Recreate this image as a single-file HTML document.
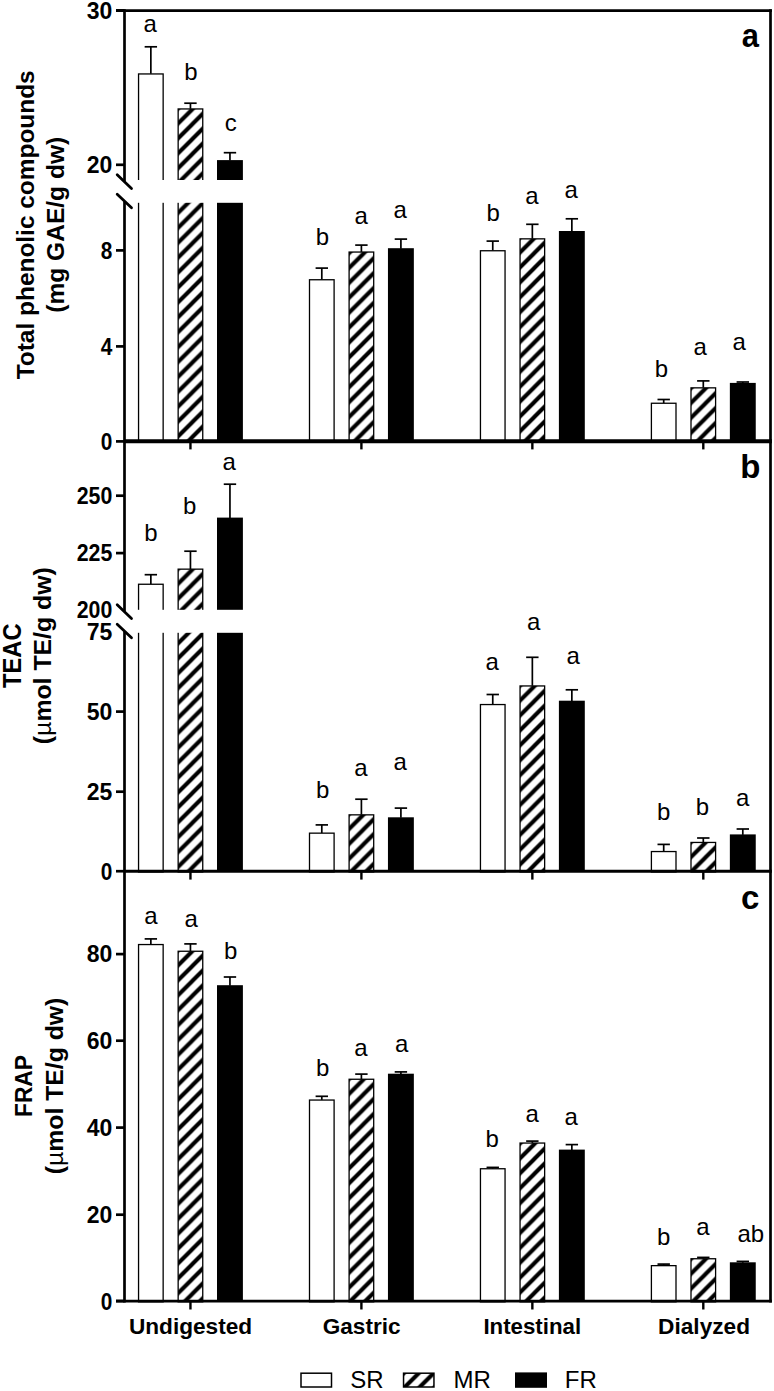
<!DOCTYPE html><html><head><meta charset="utf-8"><style>html,body{margin:0;padding:0;background:#fff;}body{width:774px;height:1391px;overflow:hidden;}</style></head><body><svg width="774" height="1391" viewBox="0 0 774 1391" style="display:block">
<defs>
<pattern id="ha0" patternUnits="userSpaceOnUse" x="177.50" y="109.20" width="14.9" height="14.9"><rect width="14.9" height="14.9" fill="#fff"/><path d="M-14.90,14.90L29.80,-29.80M-14.90,29.80L29.80,-14.90M-14.90,44.70L29.80,0.00" stroke="#000" stroke-width="4.101" fill="none"/></pattern><pattern id="ha1" patternUnits="userSpaceOnUse" x="348.45" y="253.70" width="14.9" height="14.9"><rect width="14.9" height="14.9" fill="#fff"/><path d="M-14.90,14.90L29.80,-29.80M-14.90,29.80L29.80,-14.90M-14.90,44.70L29.80,0.00" stroke="#000" stroke-width="4.101" fill="none"/></pattern><pattern id="ha2" patternUnits="userSpaceOnUse" x="519.40" y="238.20" width="14.9" height="14.9"><rect width="14.9" height="14.9" fill="#fff"/><path d="M-14.90,14.90L29.80,-29.80M-14.90,29.80L29.80,-14.90M-14.90,44.70L29.80,0.00" stroke="#000" stroke-width="4.101" fill="none"/></pattern><pattern id="ha3" patternUnits="userSpaceOnUse" x="690.35" y="388.70" width="14.9" height="14.9"><rect width="14.9" height="14.9" fill="#fff"/><path d="M-14.90,14.90L29.80,-29.80M-14.90,29.80L29.80,-14.90M-14.90,44.70L29.80,0.00" stroke="#000" stroke-width="4.101" fill="none"/></pattern><pattern id="hb0" patternUnits="userSpaceOnUse" x="177.50" y="569.50" width="14.9" height="14.9"><rect width="14.9" height="14.9" fill="#fff"/><path d="M-14.90,14.90L29.80,-29.80M-14.90,29.80L29.80,-14.90M-14.90,44.70L29.80,0.00" stroke="#000" stroke-width="4.101" fill="none"/></pattern><pattern id="hb1" patternUnits="userSpaceOnUse" x="348.45" y="814.70" width="14.9" height="14.9"><rect width="14.9" height="14.9" fill="#fff"/><path d="M-14.90,14.90L29.80,-29.80M-14.90,29.80L29.80,-14.90M-14.90,44.70L29.80,0.00" stroke="#000" stroke-width="4.101" fill="none"/></pattern><pattern id="hb2" patternUnits="userSpaceOnUse" x="519.40" y="686.30" width="14.9" height="14.9"><rect width="14.9" height="14.9" fill="#fff"/><path d="M-14.90,14.90L29.80,-29.80M-14.90,29.80L29.80,-14.90M-14.90,44.70L29.80,0.00" stroke="#000" stroke-width="4.101" fill="none"/></pattern><pattern id="hb3" patternUnits="userSpaceOnUse" x="690.35" y="842.80" width="14.9" height="14.9"><rect width="14.9" height="14.9" fill="#fff"/><path d="M-14.90,14.90L29.80,-29.80M-14.90,29.80L29.80,-14.90M-14.90,44.70L29.80,0.00" stroke="#000" stroke-width="4.101" fill="none"/></pattern><pattern id="hc0" patternUnits="userSpaceOnUse" x="177.50" y="951.10" width="14.9" height="14.9"><rect width="14.9" height="14.9" fill="#fff"/><path d="M-14.90,14.90L29.80,-29.80M-14.90,29.80L29.80,-14.90M-14.90,44.70L29.80,0.00" stroke="#000" stroke-width="4.101" fill="none"/></pattern><pattern id="hc1" patternUnits="userSpaceOnUse" x="348.45" y="1079.60" width="14.9" height="14.9"><rect width="14.9" height="14.9" fill="#fff"/><path d="M-14.90,14.90L29.80,-29.80M-14.90,29.80L29.80,-14.90M-14.90,44.70L29.80,0.00" stroke="#000" stroke-width="4.101" fill="none"/></pattern><pattern id="hc2" patternUnits="userSpaceOnUse" x="519.40" y="1144.10" width="14.9" height="14.9"><rect width="14.9" height="14.9" fill="#fff"/><path d="M-14.90,14.90L29.80,-29.80M-14.90,29.80L29.80,-14.90M-14.90,44.70L29.80,0.00" stroke="#000" stroke-width="4.101" fill="none"/></pattern><pattern id="hc3" patternUnits="userSpaceOnUse" x="690.35" y="1259.50" width="14.9" height="14.9"><rect width="14.9" height="14.9" fill="#fff"/><path d="M-14.90,14.90L29.80,-29.80M-14.90,29.80L29.80,-14.90M-14.90,44.70L29.80,0.00" stroke="#000" stroke-width="4.101" fill="none"/></pattern><pattern id="hleg" patternUnits="userSpaceOnUse" x="404.80" y="1372.20" width="14.9" height="14.9"><rect width="14.9" height="14.9" fill="#fff"/><path d="M-14.90,14.90L29.80,-29.80M-14.90,29.80L29.80,-14.90M-14.90,44.70L29.80,0.00" stroke="#000" stroke-width="4.101" fill="none"/></pattern>
</defs>
<rect width="774" height="1391" fill="#fff"/>
<line x1="150.85" y1="46.80" x2="150.85" y2="73.80" stroke="#000" stroke-width="1.7"/>
<line x1="144.65" y1="46.80" x2="157.05" y2="46.80" stroke="#000" stroke-width="1.7"/>
<rect x="138.55" y="73.95" width="24.60" height="367.80" fill="#fff" stroke="#000" stroke-width="1.3"/>
<line x1="190.45" y1="103.20" x2="190.45" y2="108.80" stroke="#000" stroke-width="1.7"/>
<line x1="184.25" y1="103.20" x2="196.65" y2="103.20" stroke="#000" stroke-width="1.7"/>
<rect x="178.15" y="108.95" width="24.60" height="332.80" fill="url(#ha0)" stroke="#000" stroke-width="1.3"/>
<line x1="229.95" y1="152.70" x2="229.95" y2="160.60" stroke="#000" stroke-width="1.7"/>
<line x1="223.75" y1="152.70" x2="236.15" y2="152.70" stroke="#000" stroke-width="1.7"/>
<rect x="217.00" y="160.10" width="25.90" height="281.00" fill="#000"/>
<line x1="321.80" y1="268.10" x2="321.80" y2="279.60" stroke="#000" stroke-width="1.7"/>
<line x1="315.60" y1="268.10" x2="328.00" y2="268.10" stroke="#000" stroke-width="1.7"/>
<rect x="309.50" y="279.75" width="24.60" height="162.00" fill="#fff" stroke="#000" stroke-width="1.3"/>
<line x1="361.40" y1="245.10" x2="361.40" y2="251.90" stroke="#000" stroke-width="1.7"/>
<line x1="355.20" y1="245.10" x2="367.60" y2="245.10" stroke="#000" stroke-width="1.7"/>
<rect x="349.10" y="252.05" width="24.60" height="189.70" fill="url(#ha1)" stroke="#000" stroke-width="1.3"/>
<line x1="400.90" y1="239.10" x2="400.90" y2="248.70" stroke="#000" stroke-width="1.7"/>
<line x1="394.70" y1="239.10" x2="407.10" y2="239.10" stroke="#000" stroke-width="1.7"/>
<rect x="387.95" y="248.20" width="25.90" height="192.90" fill="#000"/>
<line x1="492.75" y1="241.10" x2="492.75" y2="250.60" stroke="#000" stroke-width="1.7"/>
<line x1="486.55" y1="241.10" x2="498.95" y2="241.10" stroke="#000" stroke-width="1.7"/>
<rect x="480.45" y="250.75" width="24.60" height="191.00" fill="#fff" stroke="#000" stroke-width="1.3"/>
<line x1="532.35" y1="224.30" x2="532.35" y2="238.70" stroke="#000" stroke-width="1.7"/>
<line x1="526.15" y1="224.30" x2="538.55" y2="224.30" stroke="#000" stroke-width="1.7"/>
<rect x="520.05" y="238.85" width="24.60" height="202.90" fill="url(#ha2)" stroke="#000" stroke-width="1.3"/>
<line x1="571.85" y1="218.80" x2="571.85" y2="231.50" stroke="#000" stroke-width="1.7"/>
<line x1="565.65" y1="218.80" x2="578.05" y2="218.80" stroke="#000" stroke-width="1.7"/>
<rect x="558.90" y="231.00" width="25.90" height="210.10" fill="#000"/>
<line x1="663.70" y1="399.50" x2="663.70" y2="403.10" stroke="#000" stroke-width="1.7"/>
<line x1="657.50" y1="399.50" x2="669.90" y2="399.50" stroke="#000" stroke-width="1.7"/>
<rect x="651.40" y="403.25" width="24.60" height="38.50" fill="#fff" stroke="#000" stroke-width="1.3"/>
<line x1="703.30" y1="380.90" x2="703.30" y2="387.70" stroke="#000" stroke-width="1.7"/>
<line x1="697.10" y1="380.90" x2="709.50" y2="380.90" stroke="#000" stroke-width="1.7"/>
<rect x="691.00" y="387.85" width="24.60" height="53.90" fill="url(#ha3)" stroke="#000" stroke-width="1.3"/>
<line x1="742.80" y1="382.00" x2="742.80" y2="383.40" stroke="#000" stroke-width="1.7"/>
<line x1="736.60" y1="382.00" x2="749.00" y2="382.00" stroke="#000" stroke-width="1.7"/>
<rect x="729.85" y="382.90" width="25.90" height="58.20" fill="#000"/>
<line x1="150.85" y1="574.70" x2="150.85" y2="584.10" stroke="#000" stroke-width="1.7"/>
<line x1="144.65" y1="574.70" x2="157.05" y2="574.70" stroke="#000" stroke-width="1.7"/>
<rect x="138.55" y="584.25" width="24.60" height="287.70" fill="#fff" stroke="#000" stroke-width="1.3"/>
<line x1="190.45" y1="551.20" x2="190.45" y2="569.00" stroke="#000" stroke-width="1.7"/>
<line x1="184.25" y1="551.20" x2="196.65" y2="551.20" stroke="#000" stroke-width="1.7"/>
<rect x="178.15" y="569.15" width="24.60" height="302.80" fill="url(#hb0)" stroke="#000" stroke-width="1.3"/>
<line x1="229.95" y1="484.20" x2="229.95" y2="518.10" stroke="#000" stroke-width="1.7"/>
<line x1="223.75" y1="484.20" x2="236.15" y2="484.20" stroke="#000" stroke-width="1.7"/>
<rect x="217.00" y="517.60" width="25.90" height="353.70" fill="#000"/>
<line x1="321.80" y1="824.90" x2="321.80" y2="833.00" stroke="#000" stroke-width="1.7"/>
<line x1="315.60" y1="824.90" x2="328.00" y2="824.90" stroke="#000" stroke-width="1.7"/>
<rect x="309.50" y="833.15" width="24.60" height="38.80" fill="#fff" stroke="#000" stroke-width="1.3"/>
<line x1="361.40" y1="799.20" x2="361.40" y2="814.70" stroke="#000" stroke-width="1.7"/>
<line x1="355.20" y1="799.20" x2="367.60" y2="799.20" stroke="#000" stroke-width="1.7"/>
<rect x="349.10" y="814.85" width="24.60" height="57.10" fill="url(#hb1)" stroke="#000" stroke-width="1.3"/>
<line x1="400.90" y1="808.10" x2="400.90" y2="817.80" stroke="#000" stroke-width="1.7"/>
<line x1="394.70" y1="808.10" x2="407.10" y2="808.10" stroke="#000" stroke-width="1.7"/>
<rect x="387.95" y="817.30" width="25.90" height="54.00" fill="#000"/>
<line x1="492.75" y1="694.50" x2="492.75" y2="704.40" stroke="#000" stroke-width="1.7"/>
<line x1="486.55" y1="694.50" x2="498.95" y2="694.50" stroke="#000" stroke-width="1.7"/>
<rect x="480.45" y="704.55" width="24.60" height="167.40" fill="#fff" stroke="#000" stroke-width="1.3"/>
<line x1="532.35" y1="657.30" x2="532.35" y2="685.80" stroke="#000" stroke-width="1.7"/>
<line x1="526.15" y1="657.30" x2="538.55" y2="657.30" stroke="#000" stroke-width="1.7"/>
<rect x="520.05" y="685.95" width="24.60" height="186.00" fill="url(#hb2)" stroke="#000" stroke-width="1.3"/>
<line x1="571.85" y1="689.80" x2="571.85" y2="701.20" stroke="#000" stroke-width="1.7"/>
<line x1="565.65" y1="689.80" x2="578.05" y2="689.80" stroke="#000" stroke-width="1.7"/>
<rect x="558.90" y="700.70" width="25.90" height="170.60" fill="#000"/>
<line x1="663.70" y1="844.40" x2="663.70" y2="851.40" stroke="#000" stroke-width="1.7"/>
<line x1="657.50" y1="844.40" x2="669.90" y2="844.40" stroke="#000" stroke-width="1.7"/>
<rect x="651.40" y="851.55" width="24.60" height="20.40" fill="#fff" stroke="#000" stroke-width="1.3"/>
<line x1="703.30" y1="838.00" x2="703.30" y2="842.30" stroke="#000" stroke-width="1.7"/>
<line x1="697.10" y1="838.00" x2="709.50" y2="838.00" stroke="#000" stroke-width="1.7"/>
<rect x="691.00" y="842.45" width="24.60" height="29.50" fill="url(#hb3)" stroke="#000" stroke-width="1.3"/>
<line x1="742.80" y1="829.00" x2="742.80" y2="834.90" stroke="#000" stroke-width="1.7"/>
<line x1="736.60" y1="829.00" x2="749.00" y2="829.00" stroke="#000" stroke-width="1.7"/>
<rect x="729.85" y="834.40" width="25.90" height="36.90" fill="#000"/>
<line x1="150.85" y1="938.90" x2="150.85" y2="944.40" stroke="#000" stroke-width="1.7"/>
<line x1="144.65" y1="938.90" x2="157.05" y2="938.90" stroke="#000" stroke-width="1.7"/>
<rect x="138.55" y="944.55" width="24.60" height="357.30" fill="#fff" stroke="#000" stroke-width="1.3"/>
<line x1="190.45" y1="943.90" x2="190.45" y2="951.10" stroke="#000" stroke-width="1.7"/>
<line x1="184.25" y1="943.90" x2="196.65" y2="943.90" stroke="#000" stroke-width="1.7"/>
<rect x="178.15" y="951.25" width="24.60" height="350.60" fill="url(#hc0)" stroke="#000" stroke-width="1.3"/>
<line x1="229.95" y1="977.00" x2="229.95" y2="985.70" stroke="#000" stroke-width="1.7"/>
<line x1="223.75" y1="977.00" x2="236.15" y2="977.00" stroke="#000" stroke-width="1.7"/>
<rect x="217.00" y="985.20" width="25.90" height="316.00" fill="#000"/>
<line x1="321.80" y1="1096.30" x2="321.80" y2="1099.90" stroke="#000" stroke-width="1.7"/>
<line x1="315.60" y1="1096.30" x2="328.00" y2="1096.30" stroke="#000" stroke-width="1.7"/>
<rect x="309.50" y="1100.05" width="24.60" height="201.80" fill="#fff" stroke="#000" stroke-width="1.3"/>
<line x1="361.40" y1="1074.10" x2="361.40" y2="1079.10" stroke="#000" stroke-width="1.7"/>
<line x1="355.20" y1="1074.10" x2="367.60" y2="1074.10" stroke="#000" stroke-width="1.7"/>
<rect x="349.10" y="1079.25" width="24.60" height="222.60" fill="url(#hc1)" stroke="#000" stroke-width="1.3"/>
<line x1="400.90" y1="1071.90" x2="400.90" y2="1074.20" stroke="#000" stroke-width="1.7"/>
<line x1="394.70" y1="1071.90" x2="407.10" y2="1071.90" stroke="#000" stroke-width="1.7"/>
<rect x="387.95" y="1073.70" width="25.90" height="227.50" fill="#000"/>
<line x1="492.75" y1="1167.40" x2="492.75" y2="1168.60" stroke="#000" stroke-width="1.7"/>
<line x1="486.55" y1="1167.40" x2="498.95" y2="1167.40" stroke="#000" stroke-width="1.7"/>
<rect x="480.45" y="1168.75" width="24.60" height="133.10" fill="#fff" stroke="#000" stroke-width="1.3"/>
<line x1="532.35" y1="1141.10" x2="532.35" y2="1142.90" stroke="#000" stroke-width="1.7"/>
<line x1="526.15" y1="1141.10" x2="538.55" y2="1141.10" stroke="#000" stroke-width="1.7"/>
<rect x="520.05" y="1143.05" width="24.60" height="158.80" fill="url(#hc2)" stroke="#000" stroke-width="1.3"/>
<line x1="571.85" y1="1144.60" x2="571.85" y2="1150.10" stroke="#000" stroke-width="1.7"/>
<line x1="565.65" y1="1144.60" x2="578.05" y2="1144.60" stroke="#000" stroke-width="1.7"/>
<rect x="558.90" y="1149.60" width="25.90" height="151.60" fill="#000"/>
<line x1="663.70" y1="1264.10" x2="663.70" y2="1265.50" stroke="#000" stroke-width="1.7"/>
<line x1="657.50" y1="1264.10" x2="669.90" y2="1264.10" stroke="#000" stroke-width="1.7"/>
<rect x="651.40" y="1265.65" width="24.60" height="36.20" fill="#fff" stroke="#000" stroke-width="1.3"/>
<line x1="703.30" y1="1257.40" x2="703.30" y2="1258.60" stroke="#000" stroke-width="1.7"/>
<line x1="697.10" y1="1257.40" x2="709.50" y2="1257.40" stroke="#000" stroke-width="1.7"/>
<rect x="691.00" y="1258.75" width="24.60" height="43.10" fill="url(#hc3)" stroke="#000" stroke-width="1.3"/>
<line x1="742.80" y1="1261.40" x2="742.80" y2="1262.80" stroke="#000" stroke-width="1.7"/>
<line x1="736.60" y1="1261.40" x2="749.00" y2="1261.40" stroke="#000" stroke-width="1.7"/>
<rect x="729.85" y="1262.30" width="25.90" height="38.90" fill="#000"/>
<rect x="127" y="180.0" width="642.0" height="22.8" fill="#fff"/>
<rect x="127" y="609.8" width="642.0" height="23.0" fill="#fff"/>
<line x1="116" y1="10.6" x2="771.9" y2="10.6" stroke="#000" stroke-width="2.7"/>
<line x1="770.5" y1="9.25" x2="770.5" y2="1302.6000000000001" stroke="#000" stroke-width="2.7"/>
<line x1="124.5" y1="441.25" x2="771.9" y2="441.25" stroke="#000" stroke-width="3.9"/>
<line x1="124.5" y1="871.3" x2="771.9" y2="871.3" stroke="#000" stroke-width="3"/>
<line x1="116" y1="1301.2" x2="771.9" y2="1301.2" stroke="#000" stroke-width="2.7"/>
<line x1="124.5" y1="9.25" x2="124.5" y2="181.8" stroke="#000" stroke-width="2.7"/>
<line x1="124.5" y1="201.5" x2="124.5" y2="611.5" stroke="#000" stroke-width="2.7"/>
<line x1="124.5" y1="631.3" x2="124.5" y2="1302.6000000000001" stroke="#000" stroke-width="2.7"/>
<line x1="117.2" y1="174.8" x2="131.5" y2="188.6" stroke="#000" stroke-width="2.8" stroke-linecap="round"/>
<line x1="117.2" y1="194.2" x2="131.5" y2="207.8" stroke="#000" stroke-width="2.8" stroke-linecap="round"/>
<line x1="117.2" y1="604.8" x2="131.5" y2="618.6" stroke="#000" stroke-width="2.8" stroke-linecap="round"/>
<line x1="117.2" y1="624.2" x2="131.5" y2="637.8" stroke="#000" stroke-width="2.8" stroke-linecap="round"/>
<line x1="116" y1="10.4" x2="124.5" y2="10.4" stroke="#000" stroke-width="2.7"/>
<line x1="116" y1="164.8" x2="124.5" y2="164.8" stroke="#000" stroke-width="2.7"/>
<line x1="116" y1="250.4" x2="124.5" y2="250.4" stroke="#000" stroke-width="2.7"/>
<line x1="116" y1="346.4" x2="124.5" y2="346.4" stroke="#000" stroke-width="2.7"/>
<line x1="116" y1="441.4" x2="124.5" y2="441.4" stroke="#000" stroke-width="2.7"/>
<line x1="116" y1="495.7" x2="124.5" y2="495.7" stroke="#000" stroke-width="2.7"/>
<line x1="116" y1="553.1" x2="124.5" y2="553.1" stroke="#000" stroke-width="2.7"/>
<line x1="116" y1="711.6" x2="124.5" y2="711.6" stroke="#000" stroke-width="2.7"/>
<line x1="116" y1="791.7" x2="124.5" y2="791.7" stroke="#000" stroke-width="2.7"/>
<line x1="116" y1="871.2" x2="124.5" y2="871.2" stroke="#000" stroke-width="2.7"/>
<line x1="116" y1="954.1" x2="124.5" y2="954.1" stroke="#000" stroke-width="2.7"/>
<line x1="116" y1="1040.7" x2="124.5" y2="1040.7" stroke="#000" stroke-width="2.7"/>
<line x1="116" y1="1127.6" x2="124.5" y2="1127.6" stroke="#000" stroke-width="2.7"/>
<line x1="116" y1="1214.7" x2="124.5" y2="1214.7" stroke="#000" stroke-width="2.7"/>
<line x1="116" y1="1301.0" x2="124.5" y2="1301.0" stroke="#000" stroke-width="2.7"/>
<text x="112.3" y="18.6" text-anchor="end" font-family='"Liberation Sans", sans-serif' font-weight="bold" font-size="23">30</text>
<text x="112.3" y="173.0" text-anchor="end" font-family='"Liberation Sans", sans-serif' font-weight="bold" font-size="23">20</text>
<text x="112.3" y="259.0" text-anchor="end" font-family='"Liberation Sans", sans-serif' font-weight="bold" font-size="23" textLength="11.6" lengthAdjust="spacingAndGlyphs">8</text>
<text x="112.3" y="355.0" text-anchor="end" font-family='"Liberation Sans", sans-serif' font-weight="bold" font-size="23" textLength="11.6" lengthAdjust="spacingAndGlyphs">4</text>
<text x="112.3" y="450.0" text-anchor="end" font-family='"Liberation Sans", sans-serif' font-weight="bold" font-size="23" textLength="11.6" lengthAdjust="spacingAndGlyphs">0</text>
<text x="112.3" y="503.9" text-anchor="end" font-family='"Liberation Sans", sans-serif' font-weight="bold" font-size="23" textLength="35.6" lengthAdjust="spacingAndGlyphs">250</text>
<text x="112.3" y="561.3" text-anchor="end" font-family='"Liberation Sans", sans-serif' font-weight="bold" font-size="23" textLength="35.6" lengthAdjust="spacingAndGlyphs">225</text>
<text x="112.3" y="719.8" text-anchor="end" font-family='"Liberation Sans", sans-serif' font-weight="bold" font-size="23">50</text>
<text x="112.3" y="799.9" text-anchor="end" font-family='"Liberation Sans", sans-serif' font-weight="bold" font-size="23">25</text>
<text x="112.3" y="879.8" text-anchor="end" font-family='"Liberation Sans", sans-serif' font-weight="bold" font-size="23" textLength="11.6" lengthAdjust="spacingAndGlyphs">0</text>
<text x="112.3" y="962.3" text-anchor="end" font-family='"Liberation Sans", sans-serif' font-weight="bold" font-size="23">80</text>
<text x="112.3" y="1048.9" text-anchor="end" font-family='"Liberation Sans", sans-serif' font-weight="bold" font-size="23">60</text>
<text x="112.3" y="1135.8" text-anchor="end" font-family='"Liberation Sans", sans-serif' font-weight="bold" font-size="23">40</text>
<text x="112.3" y="1222.9" text-anchor="end" font-family='"Liberation Sans", sans-serif' font-weight="bold" font-size="23">20</text>
<text x="112.3" y="1309.6" text-anchor="end" font-family='"Liberation Sans", sans-serif' font-weight="bold" font-size="23" textLength="11.6" lengthAdjust="spacingAndGlyphs">0</text>
<text x="112.3" y="617.7" text-anchor="end" font-family='"Liberation Sans", sans-serif' font-weight="bold" font-size="23" textLength="35.6" lengthAdjust="spacingAndGlyphs">200</text>
<text x="112.3" y="640.2" text-anchor="end" font-family='"Liberation Sans", sans-serif' font-weight="bold" font-size="23">75</text>
<line x1="190.45" y1="441.1" x2="190.45" y2="449.40000000000003" stroke="#000" stroke-width="2.4"/>
<line x1="361.40" y1="441.1" x2="361.40" y2="449.40000000000003" stroke="#000" stroke-width="2.4"/>
<line x1="532.35" y1="441.1" x2="532.35" y2="449.40000000000003" stroke="#000" stroke-width="2.4"/>
<line x1="703.30" y1="441.1" x2="703.30" y2="449.40000000000003" stroke="#000" stroke-width="2.4"/>
<line x1="190.45" y1="871.3" x2="190.45" y2="879.5999999999999" stroke="#000" stroke-width="2.4"/>
<line x1="361.40" y1="871.3" x2="361.40" y2="879.5999999999999" stroke="#000" stroke-width="2.4"/>
<line x1="532.35" y1="871.3" x2="532.35" y2="879.5999999999999" stroke="#000" stroke-width="2.4"/>
<line x1="703.30" y1="871.3" x2="703.30" y2="879.5999999999999" stroke="#000" stroke-width="2.4"/>
<line x1="190.45" y1="1301.2" x2="190.45" y2="1309.5" stroke="#000" stroke-width="2.4"/>
<line x1="361.40" y1="1301.2" x2="361.40" y2="1309.5" stroke="#000" stroke-width="2.4"/>
<line x1="532.35" y1="1301.2" x2="532.35" y2="1309.5" stroke="#000" stroke-width="2.4"/>
<line x1="703.30" y1="1301.2" x2="703.30" y2="1309.5" stroke="#000" stroke-width="2.4"/>
<text x="150.1" y="32.1" text-anchor="middle" font-family='"Liberation Sans", sans-serif' font-size="24">a</text>
<text x="191.0" y="80.0" text-anchor="middle" font-family='"Liberation Sans", sans-serif' font-size="24">b</text>
<text x="230.8" y="130.9" text-anchor="middle" font-family='"Liberation Sans", sans-serif' font-size="24">c</text>
<text x="322.4" y="245.2" text-anchor="middle" font-family='"Liberation Sans", sans-serif' font-size="24">b</text>
<text x="361.2" y="224.4" text-anchor="middle" font-family='"Liberation Sans", sans-serif' font-size="24">a</text>
<text x="400.2" y="218.4" text-anchor="middle" font-family='"Liberation Sans", sans-serif' font-size="24">a</text>
<text x="493.1" y="220.7" text-anchor="middle" font-family='"Liberation Sans", sans-serif' font-size="24">b</text>
<text x="532.0" y="203.6" text-anchor="middle" font-family='"Liberation Sans", sans-serif' font-size="24">a</text>
<text x="571.1" y="198.1" text-anchor="middle" font-family='"Liberation Sans", sans-serif' font-size="24">a</text>
<text x="661.5" y="377.4" text-anchor="middle" font-family='"Liberation Sans", sans-serif' font-size="24">b</text>
<text x="700.1" y="355.3" text-anchor="middle" font-family='"Liberation Sans", sans-serif' font-size="24">a</text>
<text x="739.3" y="349.9" text-anchor="middle" font-family='"Liberation Sans", sans-serif' font-size="24">a</text>
<text x="151.0" y="541.4" text-anchor="middle" font-family='"Liberation Sans", sans-serif' font-size="24">b</text>
<text x="189.8" y="513.5" text-anchor="middle" font-family='"Liberation Sans", sans-serif' font-size="24">b</text>
<text x="229.2" y="469.5" text-anchor="middle" font-family='"Liberation Sans", sans-serif' font-size="24">a</text>
<text x="322.8" y="798.2" text-anchor="middle" font-family='"Liberation Sans", sans-serif' font-size="24">b</text>
<text x="361.0" y="775.6" text-anchor="middle" font-family='"Liberation Sans", sans-serif' font-size="24">a</text>
<text x="400.2" y="770.4" text-anchor="middle" font-family='"Liberation Sans", sans-serif' font-size="24">a</text>
<text x="492.2" y="669.7" text-anchor="middle" font-family='"Liberation Sans", sans-serif' font-size="24">a</text>
<text x="533.6" y="629.5" text-anchor="middle" font-family='"Liberation Sans", sans-serif' font-size="24">a</text>
<text x="573.1" y="664.3" text-anchor="middle" font-family='"Liberation Sans", sans-serif' font-size="24">a</text>
<text x="663.6" y="820.0" text-anchor="middle" font-family='"Liberation Sans", sans-serif' font-size="24">b</text>
<text x="702.5" y="814.6" text-anchor="middle" font-family='"Liberation Sans", sans-serif' font-size="24">b</text>
<text x="742.8" y="806.1" text-anchor="middle" font-family='"Liberation Sans", sans-serif' font-size="24">a</text>
<text x="151.0" y="924.2" text-anchor="middle" font-family='"Liberation Sans", sans-serif' font-size="24">a</text>
<text x="191.2" y="927.2" text-anchor="middle" font-family='"Liberation Sans", sans-serif' font-size="24">a</text>
<text x="230.7" y="958.6" text-anchor="middle" font-family='"Liberation Sans", sans-serif' font-size="24">b</text>
<text x="322.8" y="1076.4" text-anchor="middle" font-family='"Liberation Sans", sans-serif' font-size="24">b</text>
<text x="361.0" y="1055.6" text-anchor="middle" font-family='"Liberation Sans", sans-serif' font-size="24">a</text>
<text x="401.8" y="1052.0" text-anchor="middle" font-family='"Liberation Sans", sans-serif' font-size="24">a</text>
<text x="492.2" y="1147.0" text-anchor="middle" font-family='"Liberation Sans", sans-serif' font-size="24">b</text>
<text x="532.1" y="1121.7" text-anchor="middle" font-family='"Liberation Sans", sans-serif' font-size="24">a</text>
<text x="571.3" y="1125.3" text-anchor="middle" font-family='"Liberation Sans", sans-serif' font-size="24">a</text>
<text x="663.6" y="1245.2" text-anchor="middle" font-family='"Liberation Sans", sans-serif' font-size="24">b</text>
<text x="703.0" y="1235.3" text-anchor="middle" font-family='"Liberation Sans", sans-serif' font-size="24">a</text>
<text x="750.8" y="1241.6" text-anchor="middle" font-family='"Liberation Sans", sans-serif' font-size="24">ab</text>
<text x="750.3" y="46.7" text-anchor="middle" font-family='"Liberation Sans", sans-serif' font-weight="bold" font-size="33" textLength="17.2" lengthAdjust="spacingAndGlyphs">a</text>
<text x="750.3" y="477.9" text-anchor="middle" font-family='"Liberation Sans", sans-serif' font-weight="bold" font-size="33">b</text>
<text x="750.3" y="908.6" text-anchor="middle" font-family='"Liberation Sans", sans-serif' font-weight="bold" font-size="33">c</text>
<text x="128.9" y="1333.8" font-family='"Liberation Sans", sans-serif' font-weight="bold" font-size="21.3" textLength="123.3" lengthAdjust="spacingAndGlyphs">Undigested</text>
<text x="322.8" y="1333.8" font-family='"Liberation Sans", sans-serif' font-weight="bold" font-size="21.3" textLength="77.7" lengthAdjust="spacingAndGlyphs">Gastric</text>
<text x="483.4" y="1333.8" font-family='"Liberation Sans", sans-serif' font-weight="bold" font-size="21.3" textLength="97.7" lengthAdjust="spacingAndGlyphs">Intestinal</text>
<text x="658.1" y="1333.8" font-family='"Liberation Sans", sans-serif' font-weight="bold" font-size="21.3" textLength="91.9" lengthAdjust="spacingAndGlyphs">Dialyzed</text>
<text transform="translate(34.1,224.8) rotate(-90)" text-anchor="middle" font-family='"Liberation Sans", sans-serif' font-weight="bold" font-size="24.5" textLength="309" lengthAdjust="spacingAndGlyphs">Total phenolic compounds</text>
<text transform="translate(64.0,224.8) rotate(-90)" text-anchor="middle" font-family='"Liberation Sans", sans-serif' font-weight="bold" font-size="24.5" textLength="176" lengthAdjust="spacingAndGlyphs">(mg GAE/g dw)</text>
<text transform="translate(20.6,655.7) rotate(-90)" text-anchor="middle" font-family='"Liberation Sans", sans-serif' font-weight="bold" font-size="25.5" textLength="64.5" lengthAdjust="spacingAndGlyphs">TEAC</text>
<text transform="translate(51.0,655.7) rotate(-90)" text-anchor="middle" font-family='"Liberation Sans", sans-serif' font-weight="bold" font-size="24.5" textLength="177" lengthAdjust="spacingAndGlyphs">(<tspan font-weight="normal">µ</tspan>mol TE/g dw)</text>
<text transform="translate(31.6,1086.0) rotate(-90)" text-anchor="middle" font-family='"Liberation Sans", sans-serif' font-weight="bold" font-size="24" textLength="62" lengthAdjust="spacingAndGlyphs">FRAP</text>
<text transform="translate(62.5,1086.0) rotate(-90)" text-anchor="middle" font-family='"Liberation Sans", sans-serif' font-weight="bold" font-size="24.5" textLength="176.5" lengthAdjust="spacingAndGlyphs">(<tspan font-weight="normal">µ</tspan>mol TE/g dw)</text>
<rect x="301.0" y="1373.2" width="30.5" height="13.8" fill="#fff" stroke="#000" stroke-width="1.5"/>
<rect x="403.55" y="1373.2" width="30.4" height="13.8" fill="url(#hleg)" stroke="#000" stroke-width="1.5"/>
<rect x="515.0" y="1372.4" width="32.0" height="15.4" fill="#000"/>
<text x="350.3" y="1388" font-family='"Liberation Sans", sans-serif' font-size="24">SR</text>
<text x="453.6" y="1388" font-family='"Liberation Sans", sans-serif' font-size="24">MR</text>
<text x="564.8" y="1388" font-family='"Liberation Sans", sans-serif' font-size="24">FR</text>
</svg></body></html>
